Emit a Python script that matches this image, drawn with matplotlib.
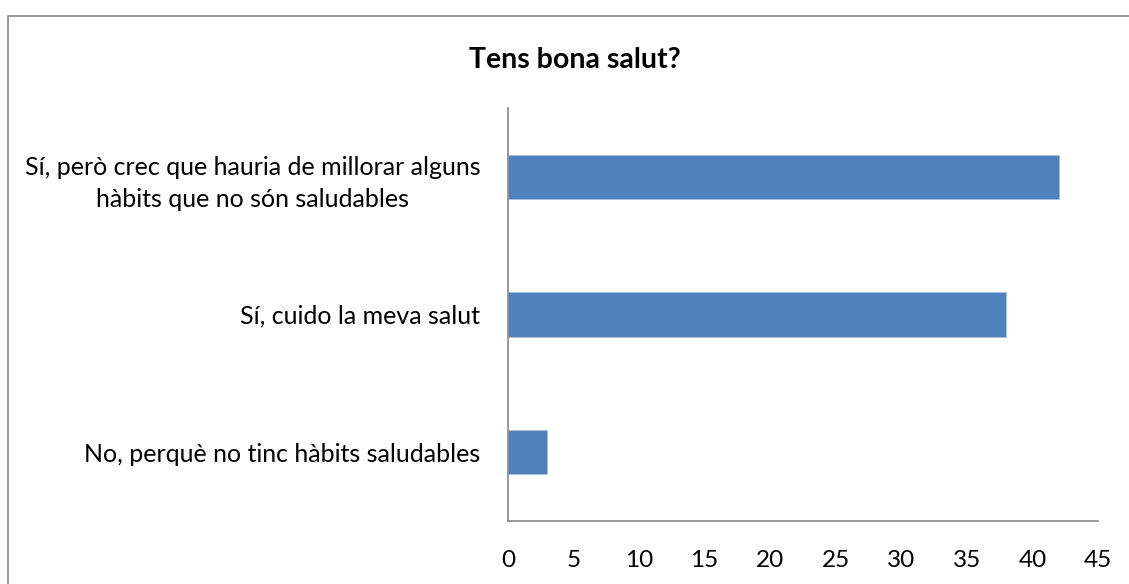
import matplotlib
matplotlib.use("Agg")
import matplotlib.pyplot as plt
from matplotlib.patches import Rectangle

categories = [
    "No, perquè no tinc hàbits saludables",
    "Sí, cuido la meva salut",
    "Sí, però crec que hauria de millorar alguns\nhàbits que no són saludables",
]
values = [3, 38, 42]
xticks = [0, 5, 10, 15, 20, 25, 30, 35, 40, 45]
title = "Tens bona salut?"

plt.rcParams['font.family'] = ['Lato', 'DejaVu Sans']

W, H = 1129, 584
fig = plt.figure(figsize=(W / 100, H / 100), dpi=100)
fig.patches.append(Rectangle((8 / W, -0.1), 1.2, (H - 16) / H + 0.1,
                             transform=fig.transFigure, fill=False,
                             edgecolor='#888888', linewidth=1.2))

ax = fig.add_axes([508 / W, (H - 521) / H, (1098 - 508) / W, (521 - 108) / H])
ax.barh(range(len(categories)), values, height=0.32, color='#4F81BD',
        edgecolor='#A7C0E0', linewidth=0.6)
ax.set_xlim(0, 45)
ax.set_ylim(-0.5, len(categories) - 0.5)
ax.set_xticks(xticks)
ax.set_xticklabels([str(t) for t in xticks], fontsize=17.5)
ax.set_yticks(range(len(categories)))
ax.set_yticklabels(categories, fontsize=18, linespacing=1.5)
ax.tick_params(axis='both', length=0)
ax.tick_params(axis='x', pad=21)
ax.tick_params(axis='y', pad=20)
for s in ['top', 'right']:
    ax.spines[s].set_visible(False)
for s in ['left', 'bottom']:
    ax.spines[s].set_color('#888888')
    ax.spines[s].set_linewidth(1.2)
for lab in ax.get_yticklabels():
    lab.set_horizontalalignment('right')
    lab.set_multialignment('center')

fig.text(575 / W, (H - 60) / H, title, ha='center', va='center',
         fontsize=20.5, fontweight='bold')

fig.savefig("out.png", dpi=100)
